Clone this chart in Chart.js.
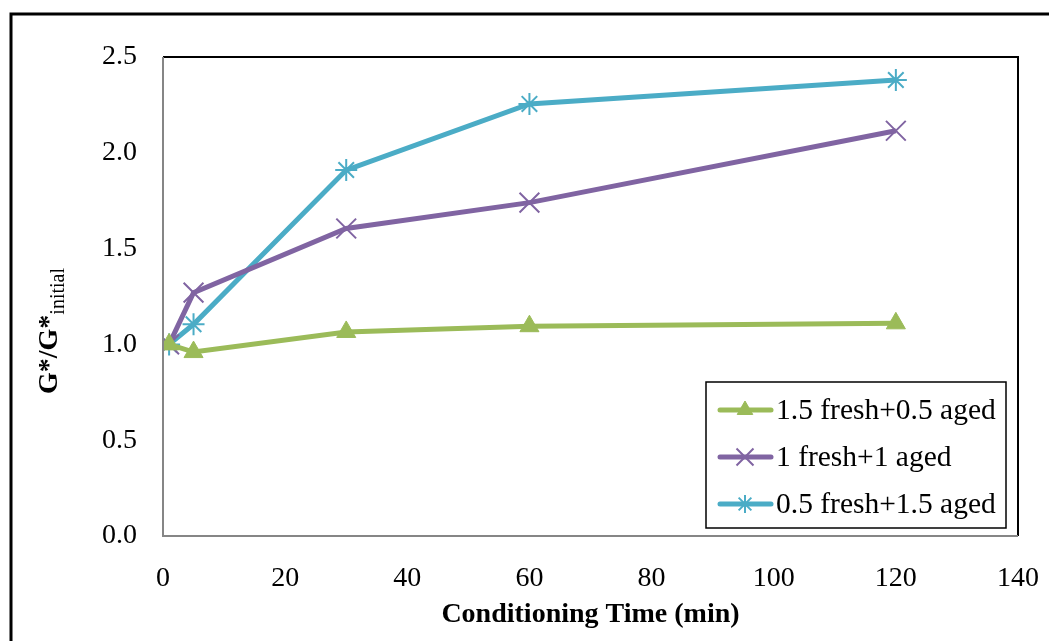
<!DOCTYPE html>
<html>
<head>
<meta charset="utf-8">
<script src="https://cdn.jsdelivr.net/npm/chart.js@4/dist/chart.umd.min.js"></script>
<style>
  html, body { margin: 0; padding: 0; background: #fff; }
  #wrap { width: 1049px; height: 641px; }
</style>
</head>
<body>
<div id="wrap"><canvas id="c" width="1049" height="641"></canvas></div>
<script>
const times = [1, 5, 30, 60, 120]
const seriesNames = ["1.5 fresh+0.5 aged", "1 fresh+1 aged", "0.5 fresh+1.5 aged"]
const fresh15 = [1.00, 0.96, 1.065, 1.095, 1.11]
const fresh10 = [1.00, 1.27, 1.605, 1.74, 2.115]
const fresh05 = [1.00, 1.105, 1.91, 2.255, 2.38]
const colors = ["#9BBB59", "#8064A2", "#4BACC6"]
const markers = ["triangle", "crossRot", "star"]
const markerSize = { triangle: 11, crossRot: 14, star: 11 }

const serif = "'Liberation Serif', 'Times New Roman', serif"
const toXY = vals => vals.map((v, i) => ({ x: times[i], y: v }))

const datasets = [fresh15, fresh10, fresh05].map((vals, i) => ({
  label: seriesNames[i],
  data: toXY(vals),
  borderColor: colors[i],
  backgroundColor: colors[i],
  borderWidth: 5,
  pointStyle: markers[i],
  pointRadius: markerSize[markers[i]],
  pointBorderWidth: markers[i] === "triangle" ? 1 : 2,
  pointBorderColor: colors[i],
  pointBackgroundColor: colors[i],
  tension: 0
}))

// outer frame, plot border, y title with subscript, legend box
const decor = {
  id: "decor",
  afterDraw(chart) {
    const { ctx, chartArea: a } = chart
    ctx.save()
    ctx.strokeStyle = "#000"
    ctx.lineWidth = 3
    ctx.beginPath()
    ctx.moveTo(11, 641)
    ctx.lineTo(11, 14)
    ctx.lineTo(1049, 14)
    ctx.stroke()

    ctx.lineWidth = 2
    ctx.beginPath()
    ctx.moveTo(a.left, a.top)
    ctx.lineTo(a.right, a.top)
    ctx.lineTo(a.right, a.bottom)
    ctx.stroke()
    ctx.strokeStyle = "#868686"
    ctx.beginPath()
    ctx.moveTo(a.left, a.top)
    ctx.lineTo(a.left, a.bottom)
    ctx.lineTo(a.right, a.bottom)
    ctx.stroke()

    // y axis title
    ctx.translate(50, 331)
    ctx.rotate(-Math.PI / 2)
    ctx.fillStyle = "#000"
    ctx.textBaseline = "middle"
    ctx.textAlign = "left"
    ctx.font = "bold 28px " + serif
    const main = "G*/G*"
    const w1 = ctx.measureText(main).width
    ctx.font = "20px " + serif
    const w2 = ctx.measureText("initial").width
    const start = -(w1 + w2) / 2
    ctx.font = "bold 28px " + serif
    ctx.fillText(main, start, 0)
    ctx.font = "20px " + serif
    ctx.fillText("initial", start + w1, 9)
    ctx.setTransform(1, 0, 0, 1, 0, 0)

    // legend
    const lx = 706, ly = 382, lw = 300, lh = 146
    ctx.fillStyle = "#fff"
    ctx.fillRect(lx, ly, lw, lh)
    ctx.strokeStyle = "#000"
    ctx.lineWidth = 1.5
    ctx.strokeRect(lx, ly, lw, lh)
    chart.data.datasets.forEach((ds, i) => {
      const y = ly + 28 + i * 47
      ctx.strokeStyle = ds.borderColor
      ctx.lineWidth = 5
      ctx.lineCap = "round"
      ctx.beginPath()
      ctx.moveTo(720, y)
      ctx.lineTo(771, y)
      ctx.stroke()
      ctx.lineCap = "butt"
      ctx.fillStyle = ds.borderColor
      ctx.lineWidth = ds.pointBorderWidth
      Chart.helpers.drawPoint(ctx, {
        pointStyle: ds.pointStyle,
        radius: ds.pointRadius - 2,
        borderWidth: ds.pointBorderWidth,
        rotation: 0
      }, 745, y)
      ctx.fillStyle = "#000"
      ctx.font = "29.5px " + serif
      ctx.textAlign = "left"
      ctx.textBaseline = "middle"
      ctx.fillText(ds.label, 776, y + 1)
    })
    ctx.restore()
  }
}

new Chart(document.getElementById("c"), {
  type: "line",
  data: { datasets },
  options: {
    responsive: false,
    animation: false,
    layout: { padding: { top: 57, right: 31, left: 0, bottom: 0 } },
    plugins: { legend: { display: false }, tooltip: { enabled: false } },
    scales: {
      x: {
        type: "linear",
        min: 0, max: 140,
        grid: { display: false, drawTicks: false },
        border: { display: false },
        ticks: { stepSize: 20, color: "#000", padding: 26, font: { family: serif, size: 28 } },
        title: { display: true, text: "Conditioning Time (min)", color: "#000", padding: { top: 0, bottom: 9 }, font: { family: serif, size: 28, weight: "bold" } },
        afterFit(s) { s.height = 641 - 536; s.paddingLeft = 0; s.paddingRight = 0 }
      },
      y: {
        min: 0, max: 2.5,
        grid: { display: false, drawTicks: false },
        border: { display: false },
        ticks: { stepSize: 0.5, color: "#000", padding: 26, font: { family: serif, size: 28 }, callback: v => v.toFixed(1) },
        afterFit(s) { s.width = 163; s.paddingTop = 0; s.paddingBottom = 0 }
      }
    }
  },
  plugins: [decor]
})
</script>
</body>
</html>
